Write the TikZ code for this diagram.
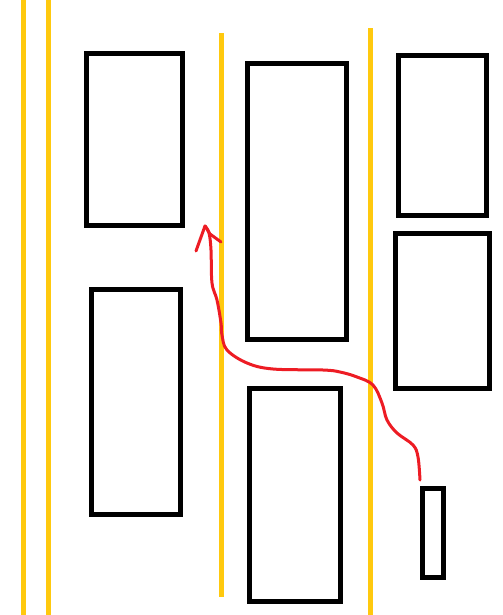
\documentclass[tikz,border=0pt]{standalone}
\usepackage{tikz}

\definecolor{laneyellow}{RGB}{255,201,14}
\definecolor{pathred}{RGB}{237,28,36}

\tikzset{
  lane/.style={draw=laneyellow, line width=3.75pt},
  car/.style={draw=black, line width=3.75pt},
  route/.style={draw=pathred, line width=2.25pt, line cap=round, line join=round}
}

\begin{document}
\begin{tikzpicture}[x=0.75pt,y=0.75pt,yscale=-1,xscale=1]
\useasboundingbox (0,0) rectangle (503,615);

%Straight Lines: lanes
\draw [lane] (23,0) -- (23,615) ;
\draw [lane] (48,0) -- (48,615) ;
\draw [lane] (221,33) -- (221,597) ;
\draw [lane] (370,28) -- (370,615) ;

%Shape: Rectangle (cars)
\draw [car] (86.5,53.5) rectangle (182.5,225.5) ;
\draw [car] (91.5,289.5) rectangle (180.5,514.5) ;
\draw [car] (247.5,63.5) rectangle (346.5,339.5) ;
\draw [car] (249.5,388.5) rectangle (340.5,601.5) ;
\draw [car] (398.5,55.5) rectangle (486.5,215.5) ;
\draw [car] (395.5,233.5) rectangle (489,388) ;
\draw [car] (422.5,488.5) rectangle (443.5,577.5) ;

%Curve: route
\coordinate (start) at (420,480);
\coordinate (tip) at (205,226);
\draw [route] plot [smooth, tension=0.6] coordinates {(start) (418,457) (413,445) (397,433) (387,420) (382,403) (373,385) (357,377) (340,372) (323,370) (273,369) (247,363) (227,350) (222,335) (221,323) (217,300) (212,283) (211,250) (209,233) (tip)} ;
%Straight Lines: arrow head
\draw [route] (tip) -- (196,251) ;
\draw [route] (tip) -- (210,234) -- (221,242) ;

\end{tikzpicture}
\end{document}
